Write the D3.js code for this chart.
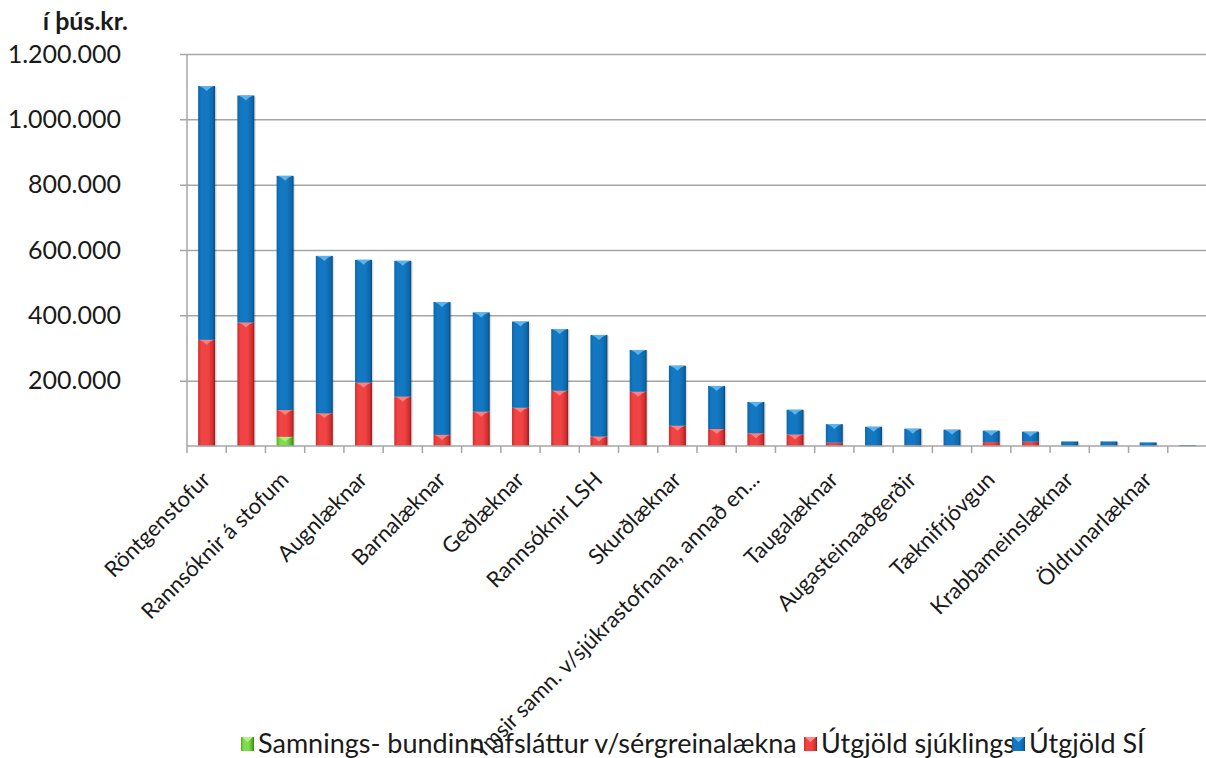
<!DOCTYPE html>
<html>
<head>
<meta charset="utf-8">
<script src="https://cdn.jsdelivr.net/npm/d3@7"></script>
<style>
  body { margin: 0; background: #fff; }
  svg { font-family: Lato, "Open Sans", sans-serif; }
</style>
</head>
<body>
<div id="chart"></div>
<script>
var w = 1206,
    h = 758;

// þús.kr.
var categories = ["Röntgenstofur", "Bæklunarlæknar", "Rannsóknir á stofum", "Háls-, nef- og eyrnalæknar",
  "Augnlæknar", "Kvensjúkdómalæknar", "Barnalæknar", "Húðlæknar", "Geðlæknar", "Hjartalæknar",
  "Rannsóknir LSH", "Lyflæknar", "Skurðlæknar", "Meltingarlæknar",
  "Ýmsir samn. v/sjúkrastofnana, annað en...", "Þvagfæralæknar", "Taugalæknar", "Svæfingalæknar",
  "Augasteinaaðgerðir", "Lýtalæknar", "Tæknifrjóvgun", "Gigtarlæknar", "Krabbameinslæknar",
  "Lungnalæknar", "Öldrunarlæknar", "Innkirtlalæknar"];
var afslattur = [0, 0, 28000, 0, 0, 0, 0, 0, 0, 0, 0, 0, 0, 0, 0, 0, 0, 0, 0, 0, 0, 0, 0, 0, 0, 0];
var sjuklings = [325000, 378000, 82000, 100000, 194000, 151000, 34000, 105000, 117000, 169000, 29000, 166000, 62000,
  52000, 39000, 35000, 10000, 0, 2000, 0, 12000, 13000, 0, 0, 0, 0];
var utgjoldSI = [777000, 695000, 717000, 482000, 376000, 416000, 407000, 304000, 264000, 189000, 311000, 128000, 184000,
  132000, 96000, 76000, 57000, 59000, 51000, 50000, 35000, 31000, 14000, 14000, 11000, 3000];
var yTicks = [200000, 400000, 600000, 800000, 1000000, 1200000];
var seriesNames = ["Samnings- bundinn afsláttur v/sérgreinalækna", "Útgjöld sjúklings", "Útgjöld SÍ"];

var isl = d3.formatLocale({decimal: ",", thousands: ".", grouping: [3], currency: ["", " kr."]});
var fmt = isl.format(",d");

var colors = [
  {id: "g", dark: "#2f7d12", mid: "#4fae22", light: "#7fdc4a", hi: "#b6f08a"},
  {id: "r", dark: "#8c1a1a", mid: "#d22d2d", light: "#f04444", hi: "#ff8c8c"},
  {id: "b", dark: "#0a4676", mid: "#0b68ab", light: "#1377c2", hi: "#6bbcf0"}
];

var svg = d3.select("#chart").append("svg")
    .attr("width", w)
    .attr("height", h);

var defs = svg.append("defs");
colors.forEach(function(c) {
  var g = defs.append("linearGradient").attr("id", "grad-" + c.id)
      .attr("x1", 0).attr("x2", 1).attr("y1", 0).attr("y2", 0);
  g.append("stop").attr("offset", "0%").attr("stop-color", c.mid);
  g.append("stop").attr("offset", "20%").attr("stop-color", c.light);
  g.append("stop").attr("offset", "60%").attr("stop-color", c.light);
  g.append("stop").attr("offset", "88%").attr("stop-color", c.mid);
  g.append("stop").attr("offset", "100%").attr("stop-color", c.dark);
});

var x = d3.scaleBand()
    .domain(categories)
    .range([187, 1207])
    .paddingInner(0.567)
    .paddingOuter(0.2835);

var y = d3.scaleLinear()
    .domain([0, 1200000])
    .range([446, 54]);

// gridlines + y axis
var yAxis = svg.append("g")
    .attr("transform", "translate(187,0)")
    .call(d3.axisLeft(y).tickValues(yTicks).tickSize(-1020).tickPadding(66).tickFormat(fmt));
yAxis.select(".domain").remove();
yAxis.selectAll(".tick line").attr("x1", -7).attr("stroke", "#a6a6a6").attr("stroke-width", 1.5);
yAxis.selectAll(".tick text").attr("font-size", 25).attr("fill", "#1a1a1a")
    .attr("font-family", "Lato, sans-serif");

svg.append("line")
    .attr("x1", 187).attr("x2", 187).attr("y1", 54).attr("y2", 446)
    .attr("stroke", "#a6a6a6").attr("stroke-width", 1.5);

// stacked data
var stackData = categories.map(function(c, i) {
  return {cat: c, a: afslattur[i], s: sjuklings[i], u: utgjoldSI[i]};
});
var stack = d3.stack().keys(["a", "s", "u"]);
var series = stack(stackData);

var bw = x.bandwidth();

// faint shadows
svg.append("g").selectAll("rect")
    .data(stackData)
    .enter().append("rect")
    .attr("x", function(d) { return x(d.cat) + 1.5; })
    .attr("y", function(d) { return y(d.a + d.s + d.u) + 1; })
    .attr("width", bw)
    .attr("height", function(d) { return y(0) - y(d.a + d.s + d.u); })
    .attr("fill", "#000").attr("opacity", 0.12);

series.forEach(function(s, k) {
  var c = colors[k];
  var g = svg.append("g");
  var segs = s.filter(function(d) { return d[1] - d[0] > 0; });
  g.selectAll("rect")
    .data(segs)
    .enter().append("rect")
    .attr("x", function(d) { return x(d.data.cat); })
    .attr("y", function(d) { return y(d[1]); })
    .attr("width", bw)
    .attr("height", function(d) { return Math.max(1, y(d[0]) - y(d[1])); })
    .attr("fill", "url(#grad-" + c.id + ")");
  // top bevel
  g.selectAll("path")
    .data(segs.filter(function(d) { return y(d[0]) - y(d[1]) > 5; }))
    .enter().append("path")
    .attr("d", function(d) {
      var x0 = x(d.data.cat), y0 = y(d[1]);
      return "M" + (x0 + 1) + "," + y0 + "L" + (x0 + bw - 1) + "," + y0 +
        "L" + (x0 + bw * 0.7) + "," + (y0 + 2) + "L" + (x0 + bw / 2) + "," + (y0 + 5) +
        "L" + (x0 + bw * 0.3) + "," + (y0 + 2) + "Z";
    })
    .attr("fill", c.hi).attr("opacity", 0.85);
});

// x axis
svg.append("line")
    .attr("x1", 187).attr("x2", 1207).attr("y1", 446).attr("y2", 446)
    .attr("stroke", "#a6a6a6").attr("stroke-width", 1.5);
svg.append("g").selectAll("line")
    .data(categories)
    .enter().append("line")
    .attr("x1", function(d) { return x(d) + bw / 2 - x.step() / 2; })
    .attr("x2", function(d) { return x(d) + bw / 2 - x.step() / 2; })
    .attr("y1", 446).attr("y2", 453)
    .attr("stroke", "#a6a6a6").attr("stroke-width", 1.5);

svg.append("g").selectAll("text")
    .data(categories.filter(function(d, i) { return i % 2 === 0; }))
    .enter().append("text")
    .attr("transform", function(d) {
      return "translate(" + (x(d) + bw / 2 + 5) + ",481) rotate(-45)";
    })
    .attr("text-anchor", "end")
    .attr("font-size", 22)
    .attr("fill", "#1a1a1a")
    .text(function(d) { return d; });

// title
svg.append("text")
    .attr("x", 128).attr("y", 30)
    .attr("text-anchor", "end")
    .attr("font-size", 25).attr("font-weight", "bold")
    .attr("fill", "#1a1a1a")
    .text("í þús.kr.");

// legend
var legendX = [241, 804, 1012];
var legend = svg.append("g");
seriesNames.forEach(function(name, k) {
  var c = colors[k];
  legend.append("rect")
    .attr("x", legendX[k]).attr("y", 737).attr("width", 13).attr("height", 14)
    .attr("fill", "url(#grad-" + c.id + ")");
  legend.append("path")
    .attr("d", "M" + (legendX[k] + 1) + ",737L" + (legendX[k] + 12) + ",737L" + (legendX[k] + 6.5) + ",742Z")
    .attr("fill", c.hi);
  legend.append("text")
    .attr("x", legendX[k] + 17).attr("y", 753)
    .attr("font-size", 27)
    .attr("fill", "#1a1a1a")
    .text(name);
});
</script>
</body>
</html>
